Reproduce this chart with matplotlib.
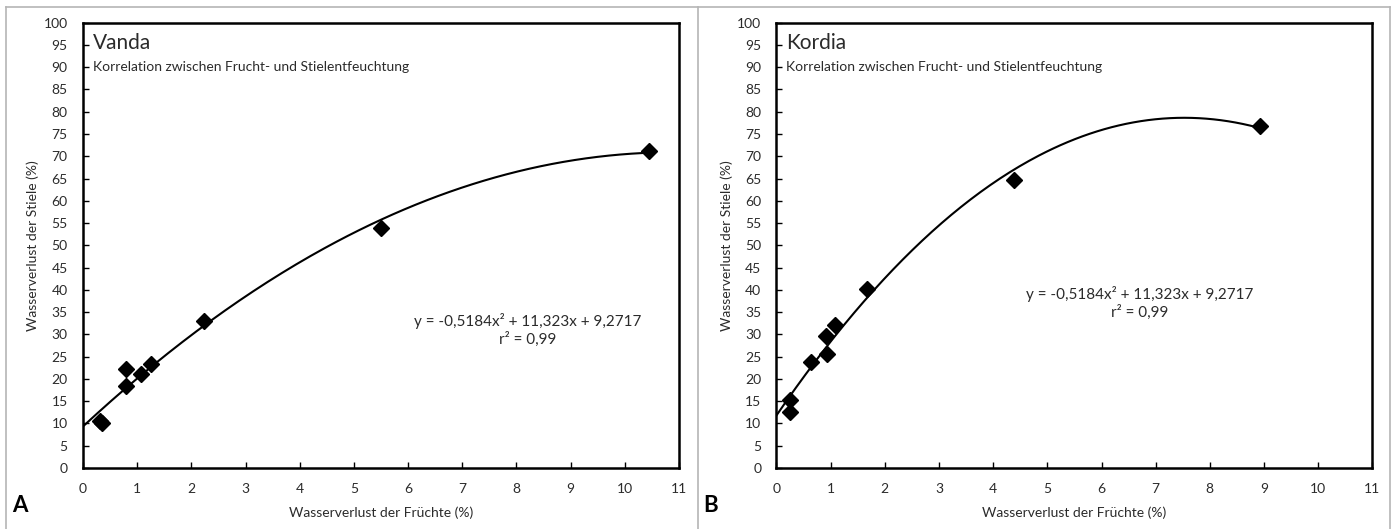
import numpy as np
import matplotlib
matplotlib.use("Agg")
import matplotlib.pyplot as plt
from matplotlib.lines import Line2D

plt.rcParams['font.family'] = ['Lato', 'DejaVu Sans']

# data
vanda_x = [0.31, 0.35, 0.79, 0.80, 1.07, 1.25, 2.23, 5.50, 10.44]
vanda_y = [10.6, 10.0, 18.4, 22.3, 21.1, 23.4, 32.9, 54.0, 71.2]
kordia_x = [0.25, 0.25, 0.64, 0.91, 0.94, 1.08, 1.67, 4.39, 8.92]
kordia_y = [15.3, 12.6, 23.8, 29.6, 25.6, 32.1, 40.2, 64.7, 76.8]

names = ["Vanda", "Kordia"]
letters = ["A", "B"]
subtitle = "Korrelation zwischen Frucht- und Stielentfeuchtung"
eq_text = "y = -0,5184x² + 11,323x + 9,2717"
r2_text = "r² = 0,99"
eq_pos = [(8.2, 33.0), (6.7, 39.0)]

txt_col = "#2b2b2b"
font_size = 10

fig = plt.figure(figsize=(13.95, 5.29), dpi=100)
ax_l = fig.add_axes([0.0595, 0.1153, 0.4272, 0.8418])
ax_r = fig.add_axes([0.5566, 0.1153, 0.4272, 0.8418])

datasets = [(vanda_x, vanda_y), (kordia_x, kordia_y)]
for i, ax in enumerate([ax_l, ax_r]):
    xs, ys = datasets[i]
    coef = np.polyfit(xs, ys, 2)
    xx = np.linspace(0, max(xs), 200)
    ax.plot(xx, np.polyval(coef, xx), color="black", lw=1.5, zorder=2)
    ax.plot(xs, ys, "D", color="black", ms=8.5, zorder=3)

    ax.set_xlim(0, 11)
    ax.set_ylim(0, 100)
    ax.set_xticks(range(0, 12))
    ax.set_yticks(range(0, 101, 5))
    ax.tick_params(direction="in", length=4, width=1, colors="black",
                   labelcolor=txt_col, labelsize=font_size)
    ax.tick_params(axis="y", pad=11)
    ax.tick_params(axis="x", pad=11)
    for s in ax.spines.values():
        s.set_linewidth(1.8)

    ax.set_xlabel("Wasserverlust der Früchte (%)", fontsize=font_size, color=txt_col, labelpad=8)
    ax.set_ylabel("Wasserverlust der Stiele (%)", fontsize=font_size, color=txt_col, labelpad=3)

    ax.text(0.18, 95.5, names[i], fontsize=15, color=txt_col, va="center", ha="left")
    ax.text(0.18, 90, subtitle, fontsize=font_size, color=txt_col, va="center", ha="left")
    ex, ey = eq_pos[i]
    ax.text(ex, ey, eq_text, fontsize=11, color=txt_col, ha="center", va="center")
    ax.text(ex, ey - 4, r2_text, fontsize=11, color=txt_col, ha="center", va="center")

# panel letters
fig.text(12 / 1395, 1 - 506 / 529, "A", fontsize=16, fontweight="bold", va="center", ha="left")
fig.text(703 / 1395, 1 - 506 / 529, "B", fontsize=16, fontweight="bold", va="center", ha="left")

# grey frame around the panels
gc = "#b5b5b5"
for (x0, y0, x1, y1) in [(6, 7, 1390, 7), (6, 7, 6, 529), (698, 7, 698, 529), (1390, 7, 1390, 529)]:
    fig.add_artist(Line2D([x0 / 1395, x1 / 1395], [1 - y0 / 529, 1 - y1 / 529],
                          color=gc, lw=1.2, transform=fig.transFigure))

fig.savefig("out.png", dpi=100)
